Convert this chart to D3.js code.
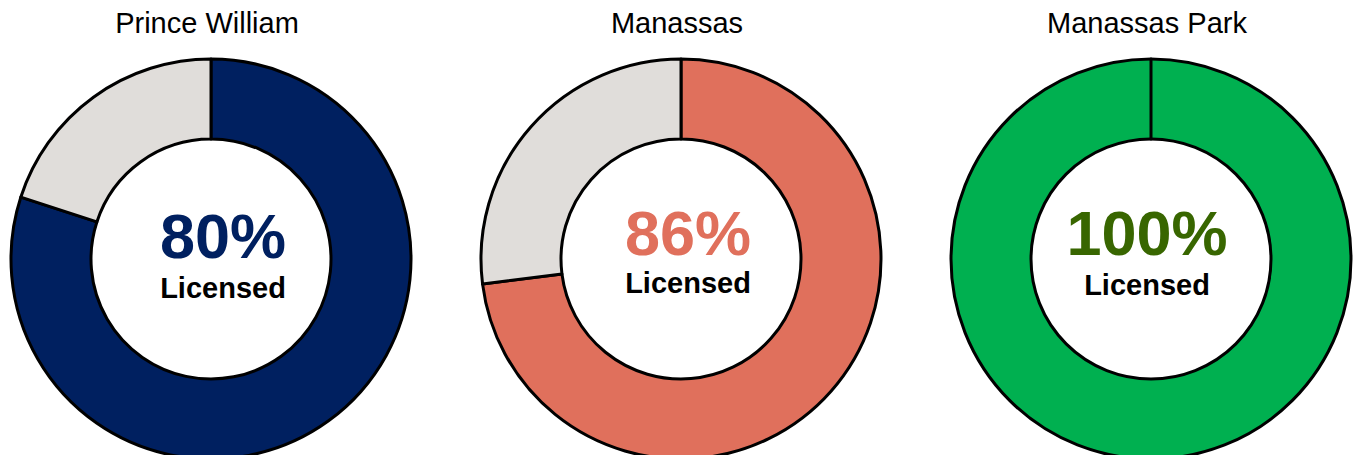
<!DOCTYPE html>
<html>
<head>
<meta charset="utf-8">
<script src="https://cdn.jsdelivr.net/npm/d3@7"></script>
<style>
  body { margin: 0; background: #fff; }
  svg { display: block; font-family: Arial, "Liberation Sans", sans-serif; }
</style>
</head>
<body>
<svg id="donuts" width="1353" height="455"></svg>
<script>
// data
var places = ["Prince William", "Manassas", "Manassas Park"];
var licensedShare = [80, 73, 100];   // coloured part of each ring
var otherShare = [20, 27, 0];        // grey remainder
var centerLabels = ["80%", "86%", "100%"];
var subLabel = "Licensed";

var ringColors = ["#002060", "#E0705C", "#00B050"];
var labelColors = ["#002060", "#E0705C", "#386600"];
var restColor = "#E0DDDA";

var svg = d3.select('#donuts'),
    outerR = 200,
    innerR = 120,
    cy = 259;

// centres of the three rings
var x = d3.scalePoint()
    .domain(places)
    .range([211, 1151]);

// small shifts of the centre text, as in the original slide
var labelDx = [12, 7, -4];

var pie = d3.pie()
    .value(d => d.value)
    .sort(null);

var arc = d3.arc()
    .outerRadius(outerR)
    .innerRadius(innerR);

places.forEach(function (name, i) {
    var g = svg.append('g')
        .attr('transform', 'translate(' + x(name) + ',' + cy + ')');

    var slices = [
        {key: 'licensed', value: licensedShare[i], color: ringColors[i]},
        {key: 'other', value: otherShare[i], color: restColor}
    ];

    g.selectAll('.arc')
        .data(pie(slices))
        .enter()
        .append('path')
        .attr('class', 'arc')
        .attr('d', arc)
        .attr('fill', d => d.data.color)
        .attr('stroke', '#000')
        .attr('stroke-width', 3)
        .attr('stroke-linejoin', 'round');

    // title above the ring
    g.append('text')
        .attr('x', -4)
        .attr('y', 33 - cy)
        .attr('text-anchor', 'middle')
        .style('font-size', '29px')
        .style('fill', '#000')
        .text(name);

    g.append('text')
        .attr('x', labelDx[i])
        .attr('y', (i == 0 ? 258 : 255) - cy)
        .attr('text-anchor', 'middle')
        .style('font-size', '63px')
        .style('font-weight', 'bold')
        .style('fill', labelColors[i])
        .text(centerLabels[i]);

    g.append('text')
        .attr('x', labelDx[i])
        .attr('y', (i == 0 ? 298 : i == 1 ? 293 : 295) - cy)
        .attr('text-anchor', 'middle')
        .style('font-size', '29px')
        .style('font-weight', 'bold')
        .style('fill', '#000')
        .text(subLabel);
});
</script>
</body>
</html>
